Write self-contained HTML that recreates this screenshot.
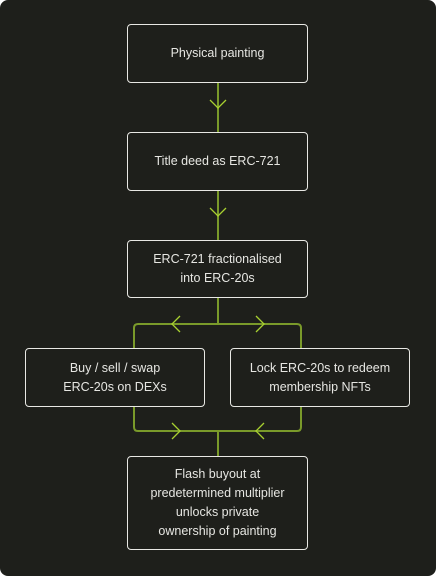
<!DOCTYPE html>
<html><head><style>
html,body{margin:0;padding:0;background:#fff}
.wrap{position:relative;width:436px;height:576px;background:#1e1f1b;border-radius:8px;overflow:hidden;font-family:"Liberation Sans",sans-serif}
.b{position:absolute;box-sizing:border-box;border:1.5px solid #e8e8e4;border-radius:4px;color:#e6e6e2;font-size:12.5px;line-height:19px;display:flex;align-items:center;justify-content:center;text-align:center}
svg{position:absolute;left:0;top:0}
</style></head><body><div class="wrap">
<svg width="436" height="576">
<g stroke="#7a9a2a" stroke-width="2" fill="none">
<line x1="218" y1="83" x2="218" y2="132"/>
<line x1="218" y1="191" x2="218" y2="240"/>
<line x1="218" y1="298" x2="218" y2="324"/>
<path d="M134 348 V328 Q134 324 138 324 H297 Q301 324 301 328 V348"/>
<path d="M134 407 V427 Q134 431 138 431 H297 Q301 431 301 427 V407"/>
<line x1="218" y1="431" x2="218" y2="456"/>
</g>
<g stroke="#a8d030" stroke-width="1.3" fill="none">
<path d="M210 100 L218 108 L226 100"/>
<path d="M210 208 L218 216 L226 208"/>
<path d="M180 316 L172 324 L180 332"/>
<path d="M256 316 L264 324 L256 332"/>
<path d="M172 423 L180 431 L172 439"/>
<path d="M264 423 L256 431 L264 439"/>
</g>
</svg>
<div class="b" style="left:127px;top:24px;width:181px;height:59px">Physical painting</div>
<div class="b" style="left:127px;top:132px;width:181px;height:59px">Title deed as ERC-721</div>
<div class="b" style="left:127px;top:240px;width:181px;height:58px">ERC-721 fractionalised<br>into ERC-20s</div>
<div class="b" style="left:25px;top:348px;width:180px;height:59px">Buy / sell / swap<br>ERC-20s on DEXs</div>
<div class="b" style="left:230px;top:348px;width:180px;height:59px">Lock ERC-20s to redeem<br>membership NFTs</div>
<div class="b" style="left:127px;top:456px;width:181px;height:94px">Flash buyout at<br>predetermined multiplier<br>unlocks private<br>ownership of painting</div>
</div></body></html>
